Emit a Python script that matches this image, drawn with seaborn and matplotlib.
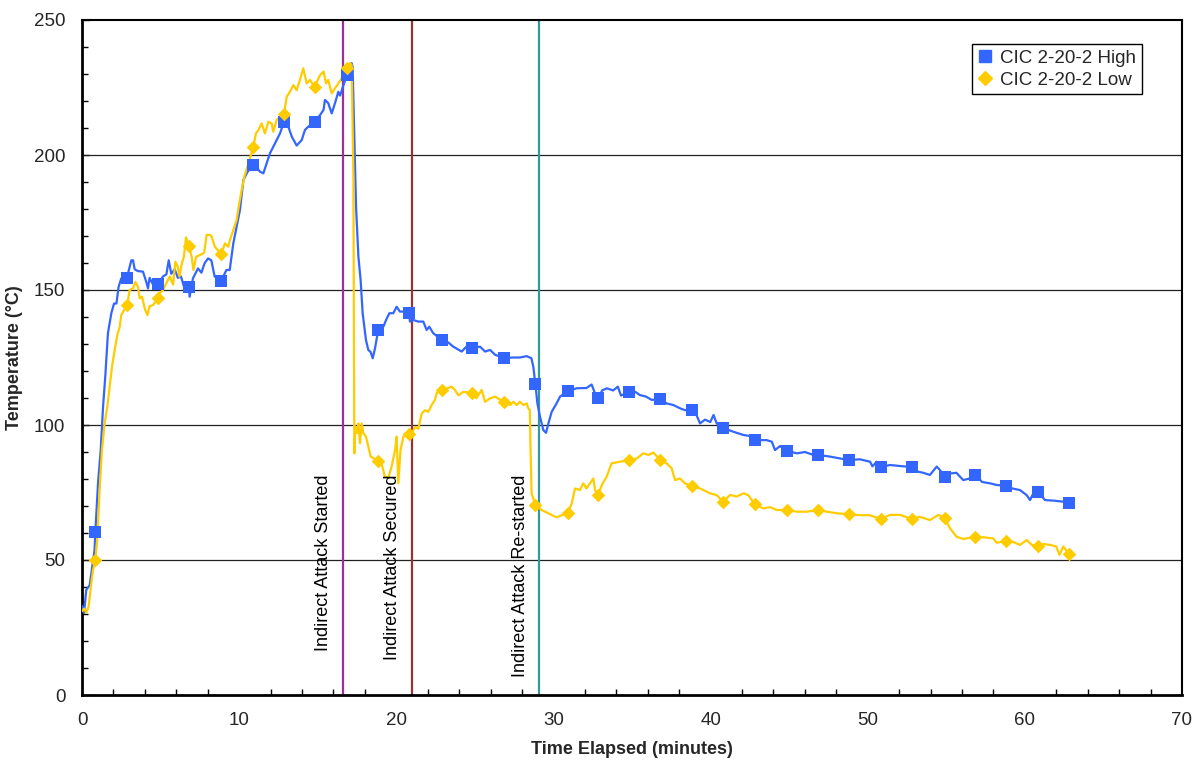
import numpy as np
import pandas as pd
import matplotlib
matplotlib.use("Agg")
import matplotlib.pyplot as plt
from matplotlib.lines import Line2D
from matplotlib.ticker import MultipleLocator
import seaborn as sns

# ---- thermocouple traces (minutes, deg C) ----
t_high = [0.0, 0.13, 0.27, 0.49, 0.8, 1.02, 1.19, 1.34, 1.48, 1.65, 1.87, 2.04, 2.19, 2.33, 2.5,
          3.14, 3.25, 3.35, 3.56, 3.88, 4.09, 4.2, 4.3, 4.52, 5.15, 5.37, 5.52, 5.68, 5.9, 6.1, 6.3, 6.55,
          6.85, 7.06, 7.38, 7.6, 7.8, 8.02, 8.23, 8.44, 9.19, 9.4, 9.63, 9.84, 10.05, 10.27, 10.48, 10.69,
          11.12, 11.33, 11.54, 11.75, 11.96, 12.17, 12.39, 12.6, 13.13, 13.35, 13.66, 13.98, 14.19, 14.4,
          15.15, 15.37, 15.46, 15.67, 15.89, 16.1, 16.31, 16.42, 17.05, 17.16, 17.22, 17.31, 17.44, 17.59,
          17.73, 17.86, 18.07, 18.22, 18.37, 18.5, 18.65, 19.18, 19.35, 19.56, 19.81, 20.02, 20.23, 20.45,
          20.87, 21.08, 21.4, 21.72, 21.93, 22.1, 22.35, 23.3, 23.63, 24.16, 24.46, 25.33, 25.65, 25.97,
          26.29, 27.45, 27.87, 28.3, 28.6, 28.72, 28.98, 29.15, 29.36, 29.53, 29.68, 29.89, 30.2, 30.42,
          31.48, 32.1, 32.43, 32.7, 33.1, 33.4, 33.8, 34.1, 34.3, 35.2, 35.5, 35.9, 36.25, 37.2, 37.63,
          38.05, 38.37, 39.1, 39.33, 39.65, 39.98, 40.19, 40.39, 41.45, 42.09, 42.52, 43.57, 43.9, 44.1,
          44.42, 45.5, 46.0, 46.6, 47.6, 48.24, 49.5, 50.15, 50.3, 50.57, 51.42, 52.06, 52.48, 53.2, 53.54,
          53.96, 54.39, 54.6, 55.2, 55.64, 56.08, 56.5, 57.28, 57.78, 58.2, 59.2, 59.69, 60.12, 60.33,
          60.54, 61.28, 61.81, 62.45]
v_high = [33, 30.4, 38.9, 40.7, 53.7, 78.5, 90.7, 106.8, 117.9, 134, 141.5, 145, 145, 151.2, 154.3,
          161, 161, 157.7, 157, 156.8, 153, 150.6, 154.5, 152, 155, 155.8, 161, 156, 157.7, 154.5, 155, 150,
          147.5, 154.3, 158, 156.4, 159.9, 161.7, 161, 155, 157.4, 157.4, 167.3, 173.5, 179.6, 190.7, 193.2, 195,
          195.5, 193.8, 193.2, 196.9, 200.6, 203, 205.6, 208, 210.5, 206.8, 203.5, 205.5, 209.3, 210.5,
          214.8, 216.7, 220.4, 219.2, 215.4, 219.2, 223.4, 222, 233.3, 234, 232.7, 211.7, 180.9, 162.3,
          153.7, 141.4, 131.5, 127.8, 127, 124.7, 128.5, 136.4, 138.9, 141.4, 141.4, 143.8, 142, 142,
          138.3, 138.9, 138.3, 138.3, 135.2, 136.4, 134, 130.6, 129, 127.2, 129, 129, 127.2, 127.8,
          126, 125, 125, 125.5, 124.7, 121.6, 108, 103, 98.1, 97.1, 100.6, 104.9, 108, 110.5,
          113.6, 113.7, 115, 110.9, 112.8, 113.6, 112.8, 114.2, 110.9, 112.3, 111.1, 110.5, 109.3, 108, 107.4,
          106.2, 105.5, 103.7, 100.6, 102, 101.1, 103.7, 100.6, 97.5, 96.3, 95.9, 94.4, 93.8, 90.7,
          92.2, 89.5, 90, 88.8, 88.3, 87.6, 87.3, 86.4, 84.7, 86.4, 85.2, 84.8, 84.6, 82.7, 82.3,
          81.5, 84.6, 83.3, 82, 82.3, 79.6, 80.2, 78.9, 78.4, 77.8, 76.5, 75.9, 74, 72.2,
          74.7, 72.2, 72, 71.6]

t_low = [0.0, 0.13, 0.27, 0.42, 0.59, 0.7, 0.98, 1.12, 1.27, 1.44, 1.61, 1.76, 1.91, 2.08, 2.25, 2.4, 2.5,
         2.93, 3.03, 3.25, 3.4, 3.56, 3.67, 3.82, 3.99, 4.16, 4.3, 4.52, 4.94, 5.15, 5.37, 5.58, 5.8, 5.94,
         6.1, 6.2, 6.36, 6.48, 6.62, 6.98, 7.09, 7.26, 7.51, 7.77, 7.93, 8.15, 8.25, 8.46, 9.1, 9.31, 9.42,
         9.63, 9.84, 10.01, 10.16, 10.33, 10.59, 11.07, 11.22, 11.43, 11.64, 11.86, 12.07, 12.17, 12.39,
         13.03, 13.24, 13.45, 13.66, 13.87, 14.08, 14.3, 14.51, 15.15, 15.37, 15.53, 15.67, 15.89, 16.1,
         16.31, 16.52, 17.05, 17.16, 17.27, 17.31, 17.33, 17.4, 17.52, 17.59, 17.69, 17.8, 17.9, 18.07,
         18.22, 18.37, 19.07, 19.28, 19.5, 19.7, 19.92, 20.02, 20.13, 20.27, 20.45, 20.98, 21.2, 21.4,
         21.62, 21.83, 22.04, 22.25, 22.46, 22.57, 23.2, 23.52, 23.73, 23.95, 24.27, 25.1, 25.43, 25.65,
         25.97, 26.29, 27.25, 27.45, 27.66, 27.87, 28.09, 28.3, 28.4, 28.5, 28.54, 28.61, 29.25, 29.67,
         30.2, 31.17, 31.37, 31.69, 31.9, 32.1, 32.33, 32.54, 32.65, 33.08, 33.39, 33.7, 34.23, 35.3,
         35.72, 36.05, 36.36, 37.2, 37.52, 37.74, 38.05, 38.37, 39.33, 39.97, 40.4, 41.24, 41.66, 42.1,
         42.4, 43.36, 43.78, 44.21, 45.5, 46.13, 47.4, 48.03, 49.5, 50.1, 51.42, 52.06, 53.3, 53.96,
         54.5, 55.24, 55.66, 56.08, 57.38, 57.99, 58.2, 59.2, 59.69, 60.12, 60.44, 61.2, 61.6, 62.0,
         62.2, 62.45]
v_low = [31, 32, 30.5, 32.7, 41.4, 46.3, 58.6, 75.9, 90.7, 100.6, 106.8, 114.2, 121.6, 127.8, 133.3, 136.4, 140.7,
         146.3, 150, 150.6, 153, 151.2, 146.9, 147.5, 143.2, 140.7, 144, 144.4, 148.8, 150, 152.5, 155, 152, 160.5,
         158.6, 155, 160, 162.3, 169.5, 162.3, 157.4, 162.3, 163, 163.7, 170.4, 170.4, 169.7, 166, 167.3, 166, 168.6,
         172.2, 175.9, 182.1, 187, 192, 196.9, 208, 209.2, 211.7, 208, 212.3, 211.7, 208.6, 213,
         221.6, 223.5, 225.9, 224, 227.8, 232.1, 226.5, 227.8, 229.6, 230.9, 226.5, 227.8, 222.8, 224.7,
         226.5, 228.4, 234, 233.3, 193.2, 125.3, 89.5, 99.4, 97, 100.6, 93.2, 100.6, 97, 95.7,
         92, 88.3, 85.5, 80.8, 80.5, 84.6, 90.7, 95.7, 78.4, 90.7, 95.7, 96.9, 99.3, 98.6,
         104.3, 105.5, 104.9, 107.4, 109.3, 111.8, 113.5, 114.2, 113, 111, 112.3, 109.9, 113, 108.6,
         109.9, 110.5, 107.4, 108.6, 107.4, 108.6, 107.4, 108, 106.2, 105.5, 92, 74.7, 68.5, 67.3,
         65.8, 71, 76.5, 75.9, 78.4, 76.5, 78.4, 80.2, 75.9, 77.8, 80.9, 85.8, 86.4, 87.6,
         89.5, 88.9, 89.8, 85.8, 84, 79.6, 80.2, 78.4, 76.5, 74.7, 74, 74.1, 73.5, 74.7,
         74, 69.1, 69.6, 68.5, 67.9, 67.9, 67.9, 67.3, 66.6, 66.6, 66.7, 66.7, 66, 64.8,
         66.7, 61.7, 58.6, 57.8, 58.4, 58, 56.4, 56.8, 55.6, 57.4, 55.6, 55.9, 55.6, 55,
         51.9, 55]

# ---- marked readings (every other minute) ----
mk_t = [0.85, 2.85, 4.85, 6.8, 8.85, 10.9, 12.85, 14.8, 16.85, 18.85, 20.8, 22.9, 24.8, 26.85, 28.85, 30.9,
        32.85, 34.8, 36.8, 38.8, 40.8, 42.8, 44.85, 46.85, 48.8, 50.85, 52.8, 54.9, 56.85, 58.8, 60.85, 62.8]
mk_high = [60.5, 154.4, 152.2, 151.1, 153.3, 196.3, 212.2, 212.2, 229.6, 135.2, 141.5, 131.5, 128.5, 124.8,
           115.2, 112.6, 110, 112.2, 109.6, 105.6, 98.9, 94.4, 90.4, 88.9, 87, 84.4, 84.4, 80.7, 81.5,
           77.4, 75.2, 71.1]
mk_low = [50, 144.4, 147, 166.3, 163.3, 203, 215.2, 225.2, 232.2, 86.7, 96.7, 113, 111.9, 108.5,
          70.4, 67.4, 74.1, 87, 87, 77.4, 71.5, 70.7, 68.5, 68.5, 67, 65.2, 65.2, 65.5, 58.6,
          57, 55.2, 52.2]

labels = ["CIC 2-20-2 High", "CIC 2-20-2 Low"]
colors = ["#3366FF", "#FFCC00"]

# ---- events ----
event_t = [16.6, 21.0, 29.1]
event_names = ["Indirect Attack Started", "Indirect Attack Secured", "Indirect Attack Re-started"]
event_colors = ["#993399", "#993333", "#339999"]
event_text_x = [15.34, 19.73, 27.88]


def merged(t_line, v_line, t_mk, v_mk):
    t = np.concatenate([t_line, t_mk])
    v = np.concatenate([v_line, v_mk])
    order = np.argsort(t, kind="stable")
    return pd.DataFrame({"t": t[order], "v": v[order]})


sns.set_style("white")
plt.rcParams["font.family"] = ["Liberation Sans", "DejaVu Sans"]
plt.rcParams["font.size"] = 13

fig = plt.figure(figsize=(12, 7.63), dpi=100)
ax = fig.add_axes([82 / 1200, 1 - 695 / 763, 1100 / 1200, 675 / 763])

# horizontal gridlines
for gy in [50, 100, 150, 200]:
    ax.axhline(gy, color="#222222", lw=0.9, zorder=1)

# event lines and labels
for x, name, c, tx in zip(event_t, event_names, event_colors, event_text_x):
    ax.axvline(x, color=c, lw=1.6, zorder=2)
    ax.text(tx, 81.5, name, rotation=90, ha="center", va="top", fontsize=13, color="black", zorder=5)

df_high = merged(t_high, v_high, mk_t, mk_high)
df_low = merged(t_low, v_low, mk_t, mk_low)

sns.lineplot(data=df_high, x="t", y="v", ax=ax, color=colors[0], lw=1.6, estimator=None, sort=False, zorder=3)
sns.lineplot(data=df_low, x="t", y="v", ax=ax, color=colors[1], lw=1.6, estimator=None, sort=False, zorder=3)
sns.scatterplot(x=mk_t, y=mk_high, ax=ax, color=colors[0], marker="s", s=64, linewidth=0, zorder=4)
sns.scatterplot(x=mk_t, y=mk_low, ax=ax, color=colors[1], marker="D", s=48, linewidth=0, zorder=4)

ax.set_xlim(0, 70)
ax.set_ylim(0, 250)
ax.xaxis.set_major_locator(MultipleLocator(10))
ax.xaxis.set_minor_locator(MultipleLocator(2))
ax.yaxis.set_major_locator(MultipleLocator(50))
ax.yaxis.set_minor_locator(MultipleLocator(10))
ax.tick_params(axis="both", which="both", direction="in", color="black", labelsize=13.5)
ax.tick_params(axis="x", which="major", length=6, width=1, pad=12)
ax.tick_params(axis="x", which="minor", length=4, width=1, bottom=True)
ax.tick_params(axis="y", which="major", length=5, width=1, pad=12, left=True)
ax.tick_params(axis="y", which="minor", length=4, width=1, left=True)

for side, sp in ax.spines.items():
    sp.set_visible(True)
    sp.set_color("black")
    sp.set_linewidth(2.0 if side in ("left", "bottom") else 1.5)

ax.set_xlabel("Time Elapsed (minutes)", fontsize=13, fontweight="bold", labelpad=9)
ax.set_ylabel("Temperature (\u00b0C)", fontsize=13, fontweight="bold", labelpad=8)

handles = [Line2D([], [], ls="none", marker="s", color=colors[0], markersize=8),
           Line2D([], [], ls="none", marker="D", color=colors[1], markersize=7)]
leg = ax.legend(handles, labels, loc="upper right", bbox_to_anchor=(0.9636, 0.9644), borderaxespad=0,
                frameon=True, fancybox=False, edgecolor="black", framealpha=1, fontsize=13.5,
                handlelength=0.8, handletextpad=0.4, borderpad=0.3, labelspacing=0.25)
leg.get_frame().set_linewidth(1.0)

fig.savefig("out.png", dpi=100)
